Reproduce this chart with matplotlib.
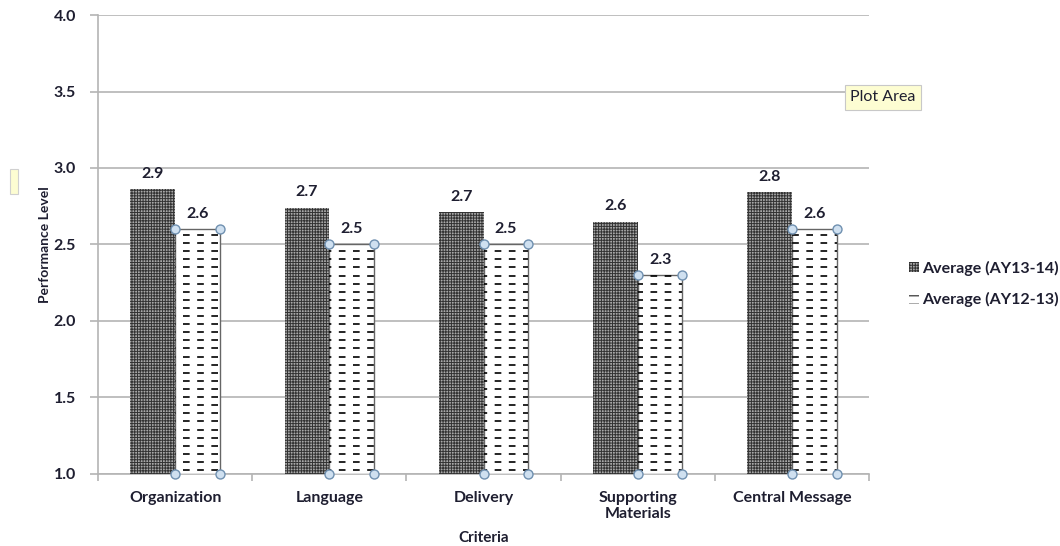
import numpy as np
import matplotlib.pyplot as plt
from matplotlib.patches import Patch, Rectangle

plt.rcParams['font.family'] = ['Lato', 'DejaVu Sans']

criteria = ['Organization', 'Language', 'Delivery', 'Supporting\nMaterials', 'Central Message']
avg_1314 = [2.86, 2.74, 2.71, 2.65, 2.84]
avg_1213 = [2.6, 2.5, 2.5, 2.3, 2.6]
series_names = ['Average (AY13-14)', 'Average (AY12-13)']
yticks = [1.0, 1.5, 2.0, 2.5, 3.0, 3.5, 4.0]

txt = '#1e1e30'
grid = '#b4b4b4'

fig = plt.figure(figsize=(10.6, 5.46), dpi=100)
ax = fig.add_axes([0.0925, 0.132, 0.7273, 0.8405])

x = np.arange(len(criteria))
w = 0.29

plt.rcParams['hatch.linewidth'] = 0.7
dark = ax.bar(x - w / 2, np.array(avg_1314) - 1.0, w, bottom=1.0,
              color='#a8a8a8', hatch='++++++', edgecolor='#333333',
              linewidth=0, zorder=3, label=series_names[0])
light = ax.bar(x + w / 2, np.array(avg_1213) - 1.0, w, bottom=1.0,
               color='white', edgecolor='#666666', linewidth=1.0,
               zorder=3, label=series_names[1])

# dashed fill for the second series, clipped to each bar
levels = np.arange(1.025, 4.0, 0.053)
for b in light:
    lc = ax.hlines(levels, -0.5, 4.5, colors='black', linewidth=1.2,
                   linestyles=[(0, (4, 4.5))], zorder=4)
    lc.set_clip_path(b)

# selection handles on the corners of the second series
hx, hy = [], []
for b in light:
    x0, x1 = b.get_x(), b.get_x() + b.get_width()
    top = b.get_y() + b.get_height()
    hx += [x0, x1, x0, x1]
    hy += [top, top, 1.0, 1.0]
ax.scatter(hx, hy, s=42, facecolor='#cfe0f0', edgecolor='#6f90b0',
           linewidth=1.0, zorder=6, clip_on=False)

for bars, vals in [(dark, avg_1314), (light, avg_1213)]:
    for b, v in zip(bars, vals):
        ax.annotate(f'{v:.1f}', (b.get_x() + b.get_width() / 2, v),
                    xytext=(0, 6), textcoords='offset points', ha='center',
                    va='bottom', fontsize=11.5, fontweight='bold', color=txt)

ax.set_xlim(-0.5, len(criteria) - 0.5)
ax.set_ylim(1.0, 4.0)
ax.set_yticks(yticks)
ax.set_yticklabels([f'{t:.1f}' for t in yticks], fontsize=11.5,
                   fontweight='bold', color=txt)
ax.set_xticks(x)
ax.set_xticklabels(criteria, fontsize=11.5, fontweight='bold', color=txt,
                   linespacing=1.25)
ax.set_xticks(np.arange(-0.5, len(criteria)), minor=True)
ax.tick_params(axis='x', which='major', length=0, pad=12)
ax.tick_params(axis='x', which='minor', length=5, color=grid, width=1.2)
ax.tick_params(axis='y', length=6, color=grid, width=1.2, pad=10)

ax.yaxis.grid(True, color=grid, linewidth=1.2, zorder=0)
ax.set_axisbelow(True)
for s in ['top', 'right']:
    ax.spines[s].set_visible(False)
for s in ['left', 'bottom']:
    ax.spines[s].set_color(grid)
    ax.spines[s].set_linewidth(1.2)

ax.set_ylabel('Performance Level', fontsize=10, fontweight='bold',
              color=txt, labelpad=2)
ax.set_xlabel('Criteria', fontsize=11, fontweight='bold', color=txt,
              labelpad=7)

handles = [Patch(facecolor='#a8a8a8', hatch='++++++', edgecolor='#333333',
                 linewidth=0),
           Patch(facecolor='white', hatch='--', edgecolor='black',
                 linewidth=0)]
fig.legend(handles=handles, labels=series_names, loc='center left',
           bbox_to_anchor=(0.844, 0.48), frameon=False,
           handlelength=0.6, handleheight=0.6, handletextpad=0.25,
           labelspacing=1.05, labelcolor=txt,
           prop={'weight': 'bold', 'size': 11.5})

# tooltip boxes
fig.text(0.802, 0.822, 'Plot Area', fontsize=11.5, color=txt, ha='left',
         va='center',
         bbox=dict(boxstyle='square,pad=0.35', facecolor='#fdfdd2',
                   edgecolor='#c8c8c8', linewidth=0.8))
fig.patches.append(Rectangle((0.009, 0.645), 0.008, 0.045,
                             transform=fig.transFigure, facecolor='#fdfdd2',
                             edgecolor='#d0d0d0', linewidth=0.8))

fig.savefig('out.png', dpi=100)
